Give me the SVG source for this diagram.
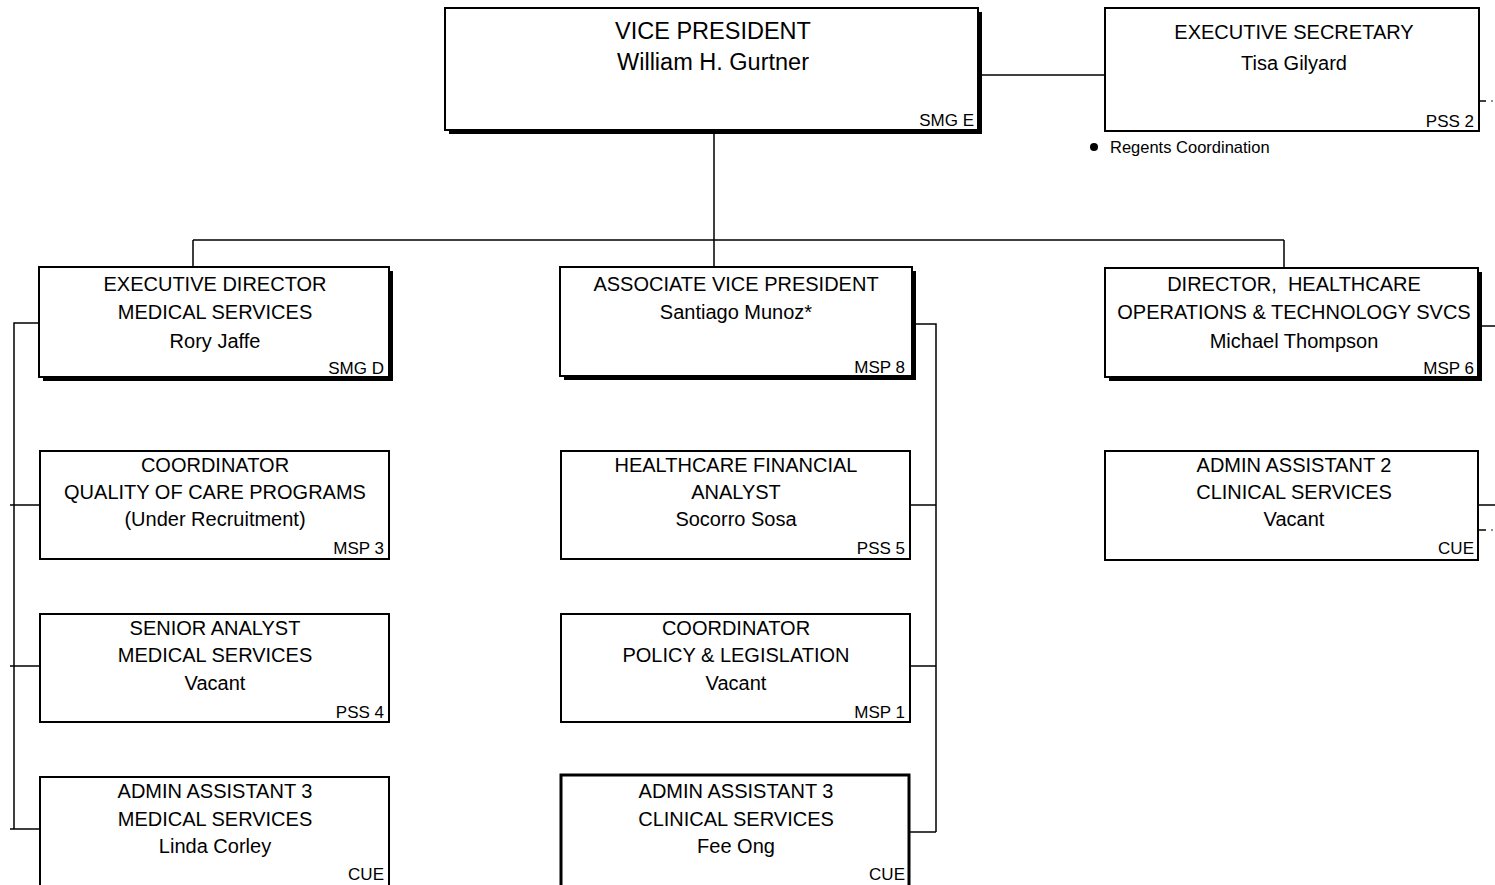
<svg xmlns="http://www.w3.org/2000/svg" width="1495" height="885" viewBox="0 0 1495 885">
<style>
.box{fill:#fff;stroke:#000;stroke-width:2}
.shadow{fill:#000}
.t{font-family:"Liberation Sans",Arial,sans-serif;font-size:20px;fill:#000;text-anchor:middle}
.big{font-size:23.5px}
.g{font-family:"Liberation Sans",Arial,sans-serif;font-size:17px;fill:#000;text-anchor:end}
.n{font-family:"Liberation Sans",Arial,sans-serif;font-size:16.5px;fill:#000}
.c{fill:none;stroke:#000;stroke-width:1.5}
</style>
<rect width="1495" height="885" fill="#fff"/>
<g id="connectors">
<path class="c" d="M978 75H1105"/>
<path class="c" d="M714 134V240M193 240H1284M193 240V267M714 240V267M1284 240V268"/>
<path class="c" d="M39 323H14V829M10 505H40M10 666H40M10 829H40"/>
<path class="c" d="M909 324H936V832M910 505H936M910 666H936M910 832H936"/>
<path class="c" d="M1478 326H1495M1478 505H1495"/>
<path class="c" d="M1479 101H1486" />
<circle cx="1492" cy="101" r="0.8" fill="#000"/>
<path class="c" d="M1478 530H1486"/>
<circle cx="1492" cy="530" r="0.8" fill="#000"/>
</g>
<g id="vp">
<rect class="shadow" x="449" y="12" width="533" height="122"/>
<rect class="box" x="445" y="8" width="533" height="122"/>
<text class="t big" x="713" y="39">VICE PRESIDENT</text>
<text class="t big" x="713" y="70">William H. Gurtner</text>
<text class="g" x="974" y="126">SMG E</text>
</g>
<g id="exec-secretary">
<rect class="box" x="1105" y="8" width="374" height="123"/>
<text class="t" x="1294" y="39">EXECUTIVE SECRETARY</text>
<text class="t" x="1294" y="70">Tisa Gilyard</text>
<text class="g" x="1474" y="127">PSS 2</text>
<circle cx="1094" cy="147" r="4" fill="#000"/>
<text class="n" x="1110" y="153">Regents Coordination</text>
</g>
<g id="exec-director">
<rect class="shadow" x="43" y="271" width="350" height="110"/>
<rect class="box" x="39" y="267" width="350" height="110"/>
<text class="t" x="215" y="291">EXECUTIVE DIRECTOR</text>
<text class="t" x="215" y="319">MEDICAL SERVICES</text>
<text class="t" x="215" y="348">Rory Jaffe</text>
<text class="g" x="384" y="374">SMG D</text>
</g>
<g id="avp">
<rect class="shadow" x="564" y="271" width="352" height="109"/>
<rect class="box" x="560" y="267" width="352" height="109"/>
<text class="t" x="736" y="291">ASSOCIATE VICE PRESIDENT</text>
<text class="t" x="736" y="319">Santiago Munoz*</text>
<text class="g" x="905" y="373">MSP 8</text>
</g>
<g id="director-hc">
<rect class="shadow" x="1109" y="272" width="373" height="109"/>
<rect class="box" x="1105" y="268" width="373" height="109"/>
<text class="t" x="1294" y="291" xml:space="preserve">DIRECTOR,  HEALTHCARE</text>
<text class="t" x="1294" y="319">OPERATIONS &amp; TECHNOLOGY SVCS</text>
<text class="t" x="1294" y="348">Michael Thompson</text>
<text class="g" x="1474" y="374">MSP 6</text>
</g>
<g id="coord-qoc">
<rect class="box" x="40" y="451" width="349" height="108"/>
<text class="t" x="215" y="472">COORDINATOR</text>
<text class="t" x="215" y="499">QUALITY OF CARE PROGRAMS</text>
<text class="t" x="215" y="526">(Under Recruitment)</text>
<text class="g" x="384" y="554">MSP 3</text>
</g>
<g id="senior-analyst">
<rect class="box" x="40" y="614" width="349" height="108"/>
<text class="t" x="215" y="635">SENIOR ANALYST</text>
<text class="t" x="215" y="662">MEDICAL SERVICES</text>
<text class="t" x="215" y="690">Vacant</text>
<text class="g" x="384" y="718">PSS 4</text>
</g>
<g id="admin3-med">
<rect class="box" x="40" y="777" width="349" height="112"/>
<text class="t" x="215" y="798">ADMIN ASSISTANT 3</text>
<text class="t" x="215" y="826">MEDICAL SERVICES</text>
<text class="t" x="215" y="853">Linda Corley</text>
<text class="g" x="384" y="880">CUE</text>
</g>
<g id="hc-fin-analyst">
<rect class="box" x="561" y="451" width="349" height="108"/>
<text class="t" x="736" y="472">HEALTHCARE FINANCIAL</text>
<text class="t" x="736" y="499">ANALYST</text>
<text class="t" x="736" y="526">Socorro Sosa</text>
<text class="g" x="905" y="554">PSS 5</text>
</g>
<g id="coord-policy">
<rect class="box" x="561" y="614" width="349" height="108"/>
<text class="t" x="736" y="635">COORDINATOR</text>
<text class="t" x="736" y="662">POLICY &amp; LEGISLATION</text>
<text class="t" x="736" y="690">Vacant</text>
<text class="g" x="905" y="718">MSP 1</text>
</g>
<g id="admin3-clin">
<rect class="box" x="561" y="775" width="348" height="114" style="stroke-width:3"/>
<text class="t" x="736" y="798">ADMIN ASSISTANT 3</text>
<text class="t" x="736" y="826">CLINICAL SERVICES</text>
<text class="t" x="736" y="853">Fee Ong</text>
<text class="g" x="905" y="880">CUE</text>
</g>
<g id="admin2-clin">
<rect class="box" x="1105" y="451" width="373" height="109"/>
<text class="t" x="1294" y="472">ADMIN ASSISTANT 2</text>
<text class="t" x="1294" y="499">CLINICAL SERVICES</text>
<text class="t" x="1294" y="526">Vacant</text>
<text class="g" x="1474" y="554">CUE</text>
</g>
</svg>
